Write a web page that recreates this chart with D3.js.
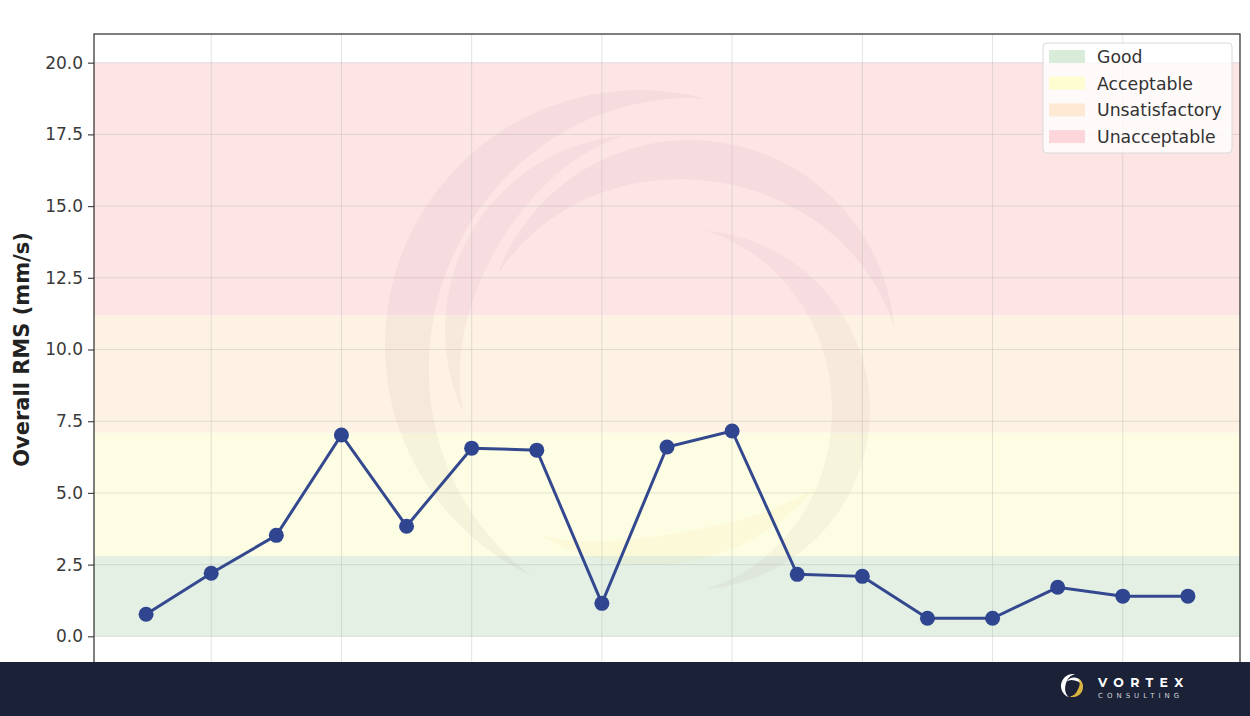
<!DOCTYPE html>
<html>
<head>
<meta charset="utf-8">
<script src="https://cdn.jsdelivr.net/npm/d3@7"></script>
<style>
  html, body { margin: 0; padding: 0; background: #ffffff; }
  svg { display: block; }
</style>
</head>
<body>
<svg id="chart" width="1250" height="716"></svg>
<script>
// ---- data ----
const pointIndex = [0,1,2,3,4,5,6,7,8,9,10,11,12,13,14,15,16];
const rmsValues = [0.77, 2.2, 3.52, 7.02, 3.84, 6.56, 6.49, 1.15, 6.6, 7.16, 2.16, 2.09, 0.63, 0.63, 1.71, 1.40, 1.40];
const yTicks = [0, 2.5, 5, 7.5, 10, 12.5, 15, 17.5, 20];
const xTicks = [1, 3, 5, 7, 9, 11, 13, 15];
const bandNames = ["Good", "Acceptable", "Unsatisfactory", "Unacceptable"];
const bandLow = [0, 2.8, 7.1, 11.2];
const bandHigh = [2.8, 7.1, 11.2, 20];
const bandColors = ["#e4f0e3", "#fdfde3", "#fdf2e3", "#fde5e6"];
const legendColors = ["#d9ecd9", "#fefdd2", "#fde9d4", "#fcd6da"];
const yLabel = "Overall RMS (mm/s)";

// ---- layout ----
const svg = d3.select("#chart");
const W = 1250, H = 716;
const plot = { left: 94, right: 1240, top: 34, bottom: 665 };

const x = d3.scaleLinear().domain([-0.8, 16.8]).range([plot.left, plot.right]);
const y = d3.scaleLinear().domain([-1, 21]).range([plot.bottom, plot.top]);

svg.append("rect").attr("width", W).attr("height", H).attr("fill", "#ffffff");

const clip = svg.append("defs").append("clipPath").attr("id", "plotclip");
clip.append("rect").attr("x", plot.left).attr("y", plot.top)
  .attr("width", plot.right - plot.left).attr("height", plot.bottom - plot.top);

const g = svg.append("g").attr("clip-path", "url(#plotclip)");

// bands
g.selectAll("rect.band").data(bandNames).enter().append("rect")
  .attr("class", "band")
  .attr("x", plot.left)
  .attr("width", plot.right - plot.left)
  .attr("y", (d, i) => y(bandHigh[i]))
  .attr("height", (d, i) => y(bandLow[i]) - y(bandHigh[i]))
  .attr("fill", (d, i) => bandColors[i]);

// watermark swirl
function crescent(cx, cy, R, a0, a1, wmax) {
  const n = 60, outer = [], inner = [];
  for (let k = 0; k <= n; k++) {
    const t = k / n;
    const a = (a0 + (a1 - a0) * t) * Math.PI / 180;
    const w = wmax * Math.sin(Math.PI * t);
    outer.push([cx + R * Math.cos(a), cy + R * Math.sin(a)]);
    inner.push([cx + (R - w) * Math.cos(a), cy + (R - w) * Math.sin(a)]);
  }
  return "M" + outer.map(p => p.join(",")).join("L") + "L" + inner.reverse().map(p => p.join(",")).join("L") + "Z";
}
const wm = g.append("g");
wm.append("path").attr("d", crescent(640, 345, 255, -75, -245, 48)).attr("fill", "rgba(140,80,95,0.06)");
wm.append("path").attr("d", crescent(640, 330, 195, -95, -205, 30)).attr("fill", "rgba(140,80,95,0.05)");
wm.append("path").attr("d", crescent(690, 345, 205, -160, -5, 40)).attr("fill", "rgba(140,80,95,0.06)");
wm.append("path").attr("d", crescent(690, 410, 180, -85, 85, 38)).attr("fill", "rgba(140,80,95,0.05)");
wm.append("path").attr("d", crescent(650, 350, 215, 40, 120, 30)).attr("fill", "rgba(230,200,60,0.07)");

// grid
g.selectAll("line.hgrid").data(yTicks).enter().append("line")
  .attr("x1", plot.left).attr("x2", plot.right)
  .attr("y1", d => y(d)).attr("y2", d => y(d))
  .attr("stroke", "#b0b0b0").attr("stroke-opacity", 0.35).attr("stroke-width", 1);
g.selectAll("line.vgrid").data(xTicks).enter().append("line")
  .attr("y1", plot.top).attr("y2", plot.bottom)
  .attr("x1", d => x(d)).attr("x2", d => x(d))
  .attr("stroke", "#b0b0b0").attr("stroke-opacity", 0.35).attr("stroke-width", 1);

// line + markers
const line = d3.line().x((d, i) => x(pointIndex[i])).y(d => y(d));
g.append("path").datum(rmsValues).attr("d", line)
  .attr("fill", "none").attr("stroke", "#34488f").attr("stroke-width", 3);
g.selectAll("circle.pt").data(rmsValues).enter().append("circle")
  .attr("cx", (d, i) => x(pointIndex[i])).attr("cy", d => y(d))
  .attr("r", 7.5).attr("fill", "#2f4590");

// axes
const yAxis = d3.axisLeft(y).tickValues(yTicks).tickFormat(d3.format(".1f")).tickSize(6).tickPadding(5);
const ya = svg.append("g").attr("transform", `translate(${plot.left},0)`).call(yAxis);
ya.select(".domain").remove();
ya.selectAll("text").attr("font-family", "DejaVu Sans, sans-serif").attr("font-size", 17).attr("fill", "#3a3a3a");
ya.selectAll("line").attr("stroke", "#444").attr("stroke-width", 1.2);

const xAxis = d3.axisBottom(x).tickValues(xTicks).tickFormat("").tickSize(6);
const xa = svg.append("g").attr("transform", `translate(0,${plot.bottom})`).call(xAxis);
xa.select(".domain").remove();
xa.selectAll("line").attr("stroke", "#444");

// spines
svg.append("rect").attr("x", plot.left).attr("y", plot.top)
  .attr("width", plot.right - plot.left).attr("height", plot.bottom - plot.top)
  .attr("fill", "none").attr("stroke", "#3a3a3a").attr("stroke-width", 1.3);

// y label
svg.append("text")
  .attr("transform", `translate(29,${(y(0) + y(20)) / 2}) rotate(-90)`)
  .attr("text-anchor", "middle")
  .attr("font-family", "DejaVu Sans, sans-serif").attr("font-weight", "bold")
  .attr("font-size", 21).attr("fill", "#222")
  .text(yLabel);

// legend
const lg = svg.append("g").attr("transform", "translate(1043,43)");
lg.append("rect").attr("width", 189).attr("height", 110).attr("rx", 4)
  .attr("fill", "#ffffff").attr("fill-opacity", 0.8).attr("stroke", "#d8d8d8");
const items = lg.selectAll("g.item").data(bandNames).enter().append("g")
  .attr("transform", (d, i) => `translate(6,${14 + i * 26.7})`);
items.append("rect").attr("x", 0).attr("y", -7).attr("width", 36).attr("height", 13)
  .attr("fill", (d, i) => legendColors[i]);
items.append("text").attr("x", 48).attr("y", 0).attr("dy", "0.35em")
  .attr("font-family", "DejaVu Sans, sans-serif").attr("font-size", 17.3).attr("fill", "#333")
  .text(d => d);

// footer bar
svg.append("rect").attr("x", 0).attr("y", 662).attr("width", W).attr("height", 54).attr("fill", "#1b2237");
const logo = svg.append("g").attr("transform", "translate(1073,686)");
logo.append("path").attr("d", crescent(0, 0, 12, -80, -250, 4.5)).attr("fill", "#ffffff");
logo.append("path").attr("d", crescent(1, 0, 8.5, -150, 0, 3)).attr("fill", "#ffffff");
logo.append("path").attr("d", crescent(0, 1, 10, -60, 110, 4.5)).attr("fill", "#d9b441");
svg.append("text").attr("x", 1098).attr("y", 687)
  .attr("font-family", "Montserrat, DejaVu Sans, sans-serif").attr("font-weight", "bold")
  .attr("font-size", 12.5).attr("letter-spacing", 6.3).attr("fill", "#ffffff").text("VORTEX");
svg.append("text").attr("x", 1098).attr("y", 698)
  .attr("font-family", "DejaVu Sans, sans-serif")
  .attr("font-size", 7).attr("letter-spacing", 4).attr("fill", "#cfd3dc").text("CONSULTING");
</script>
</body>
</html>
